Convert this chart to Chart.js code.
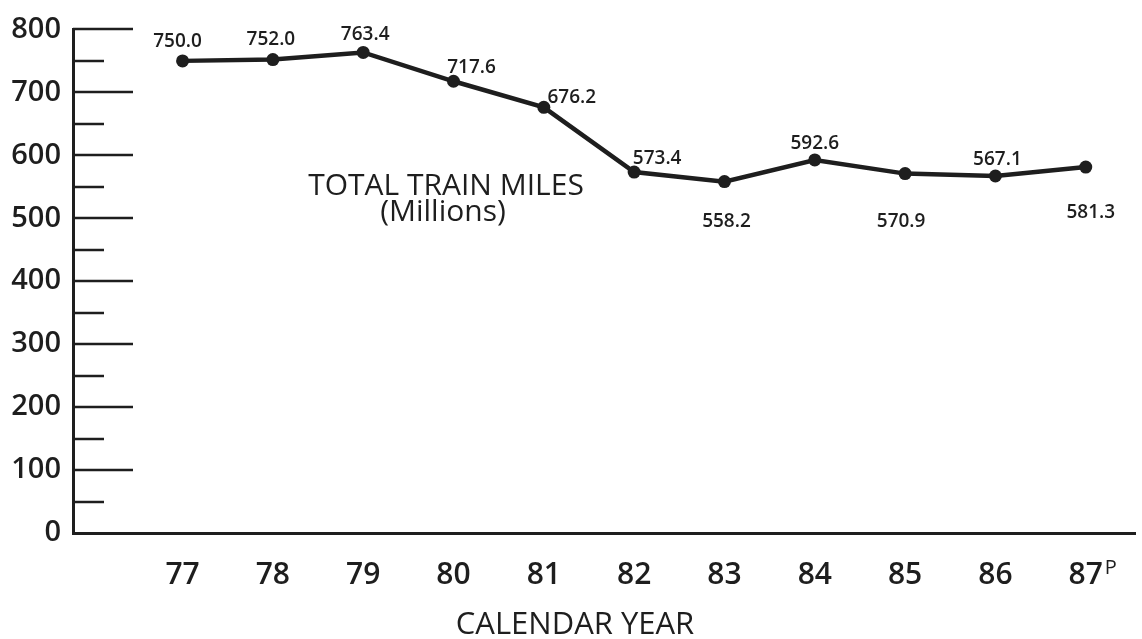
<!DOCTYPE html>
<html>
<head>
<meta charset="utf-8">
<script src="https://cdn.jsdelivr.net/npm/chart.js@4/dist/chart.umd.min.js"></script>
<style>
  html, body { margin: 0; padding: 0; background: #ffffff; }
  #wrap { width: 1142px; height: 639px; position: relative; }
  canvas { display: block; }
</style>
</head>
<body>
<div id="wrap"><canvas id="c" width="1142" height="639"></canvas></div>
<script>
// ---- data ----
const years = [77, 78, 79, 80, 81, 82, 83, 84, 85, 86, 87];
const yearLabels = ['77', '78', '79', '80', '81', '82', '83', '84', '85', '86', '87'];
const trainMiles = [750.0, 752.0, 763.4, 717.6, 676.2, 573.4, 558.2, 592.6, 570.9, 567.1, 581.3];
const valueLabels = ['750.0', '752.0', '763.4', '717.6', '676.2', '573.4', '558.2', '592.6', '570.9', '567.1', '581.3'];
const yTickValues = [0, 100, 200, 300, 400, 500, 600, 700, 800];

// ---- style (label placement relative to the point) ----
const labelOffsets = [[-5, -19], [-2, -20], [2, -18], [18, -14], [28, -10], [23, -13], [2, 40], [0, -16], [-4, 48], [2, -16], [5, 46]];

const INK = '#1e1e1e';
const FONT = '"Open Sans", "Noto Sans", sans-serif';

const decorPlugin = {
  id: 'decor',
  afterDatasetsDraw(chart) {
    const ctx = chart.ctx;
    const ys = chart.scales.y;
    const xs = chart.scales.x;
    const area = chart.chartArea;
    ctx.save();
    // inward tick marks on the y axis
    ctx.strokeStyle = INK;
    ctx.lineWidth = 2.5;
    for (let v = 50; v <= 800; v += 50) {
      const y = Math.round(ys.getPixelForValue(v));
      const len = (v % 100 === 0) ? 60 : 31;
      ctx.beginPath();
      ctx.moveTo(area.left, y);
      ctx.lineTo(area.left + len, y);
      ctx.stroke();
    }
    // value labels
    const meta = chart.getDatasetMeta(0);
    ctx.fillStyle = INK;
    ctx.font = '600 19px ' + FONT;
    ctx.textAlign = 'center';
    ctx.textBaseline = 'middle';
    meta.data.forEach((pt, i) => {
      const o = labelOffsets[i];
      ctx.fillText(valueLabels[i], pt.x + o[0], pt.y + o[1]);
    });
    // series title inside the plot
    ctx.font = '400 30px ' + FONT;
    ctx.fillText('TOTAL TRAIN MILES', 446, 186);
    ctx.fillText('(Millions)', 443, 212);
    // superscript P after the last year
    const xl = xs.getPixelForValue(years[years.length - 1]);
    ctx.font = '400 20px ' + FONT;
    ctx.textAlign = 'left';
    ctx.textBaseline = 'alphabetic';
    ctx.fillText('P', xl + 19, 574);
    // axis title
    ctx.font = '400 31px ' + FONT;
    ctx.textAlign = 'center';
    ctx.fillText('CALENDAR YEAR', 575, 634);
    ctx.restore();
  }
};

new Chart(document.getElementById('c'), {
  type: 'line',
  data: {
    datasets: [{
      data: years.map((x, i) => ({ x: x, y: trainMiles[i] })),
      borderColor: INK,
      backgroundColor: INK,
      borderWidth: 4.5,
      pointRadius: 6.5,
      pointHoverRadius: 6.5,
      pointBackgroundColor: INK,
      pointBorderWidth: 0,
      tension: 0,
      clip: false
    }]
  },
  options: {
    responsive: false,
    animation: false,
    events: [],
    layout: { padding: { top: 27, right: 2, left: 0, bottom: 0 } },
    plugins: { legend: { display: false }, tooltip: { enabled: false }, title: { display: false } },
    scales: {
      x: {
        type: 'linear',
        min: 75.787,
        max: 87.551,
        afterFit(scale) { scale.height = 106; },
        grid: { display: true, drawOnChartArea: false, drawTicks: false, color: 'rgba(0,0,0,0)' },
        border: { display: true, color: INK, width: 3 },
        afterBuildTicks(scale) { scale.ticks = years.map(v => ({ value: v })); },
        ticks: {
          padding: 24,
          color: INK,
          font: { family: FONT, size: 30, weight: '600' },
          maxRotation: 0,
          autoSkip: false,
          callback(value) {
            const i = years.indexOf(value);
            return i >= 0 ? yearLabels[i] : '';
          }
        }
      },
      y: {
        min: 0,
        max: 800,
        afterFit(scale) { scale.width = 73; },
        grid: { display: true, drawOnChartArea: false, drawTicks: false, color: 'rgba(0,0,0,0)' },
        border: { display: true, color: INK, width: 3 },
        afterBuildTicks(scale) { scale.ticks = yTickValues.map(v => ({ value: v })); },
        ticks: {
          padding: 12,
          color: INK,
          font: { family: FONT, size: 29, weight: '600' },
          autoSkip: false,
          callback(value) { return String(value); }
        }
      }
    }
  },
  plugins: [decorPlugin]
});
</script>
</body>
</html>
